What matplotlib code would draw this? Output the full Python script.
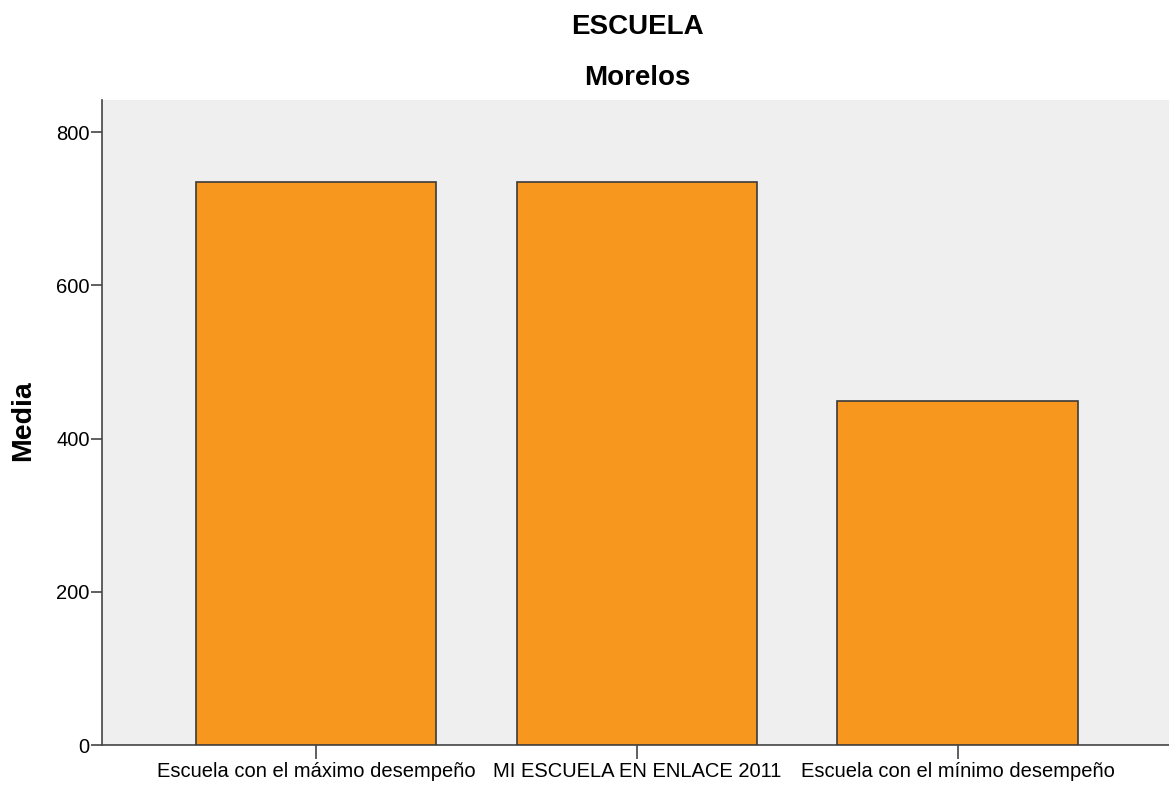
import matplotlib.pyplot as plt
import numpy as np

categorias = ['Escuela con el máximo desempeño', 'MI ESCUELA EN ENLACE 2011',
              'Escuela con el mínimo desempeño']
medias = [735, 735, 449]
yticks = [0, 200, 400, 600, 800]

plt.rcParams['font.family'] = ['Liberation Sans', 'DejaVu Sans']

fig = plt.figure(figsize=(11.69, 7.86), dpi=100)
ax = fig.add_axes([0.0873, 0.052, 0.9127, 0.8208])
ax.set_facecolor('#efefef')

x = np.arange(len(categorias))
ax.bar(x, medias, width=0.75, color='#f7971e', edgecolor='#3a3a3a', linewidth=1.2, zorder=3)

ax.set_xlim(-0.667, 2.659)
ax.set_ylim(0, 842)
ax.set_xticks(x)
ax.set_xticklabels(categorias, fontsize=14.5)
ax.set_yticks(yticks)
ax.tick_params(axis='y', labelsize=14.5, length=8, width=1.2, color='#444444', pad=1)
ax.tick_params(axis='x', length=10, width=1.2, color='#444444', pad=2)

for s in ['top', 'right']:
    ax.spines[s].set_visible(False)
for s in ['left', 'bottom']:
    ax.spines[s].set_color('#444444')
    ax.spines[s].set_linewidth(1.2)

fig.text(23 / 1169, 0.4644, 'Media', rotation=90, ha='center', va='center',
         fontsize=20.5, fontweight='bold')

fig.text(0.5454, 0.9567, 'ESCUELA', ha='center', va='baseline', fontsize=20, fontweight='bold')
fig.text(0.5454, 0.8919, 'Morelos', ha='center', va='baseline', fontsize=20, fontweight='bold')

fig.savefig('out.png', dpi=100)
